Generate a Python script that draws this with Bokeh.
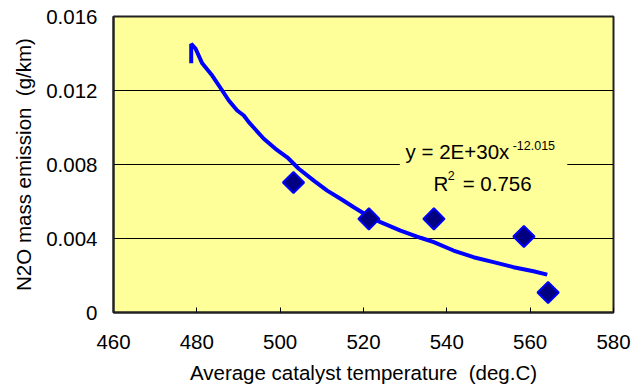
import numpy as np
from bokeh.plotting import figure
from bokeh.models import FixedTicker, Label, BoxAnnotation
from bokeh.embed import file_html
from bokeh.resources import INLINE

# Measured data points
temp = [503.2, 521.3, 536.9, 558.5, 564.3]
n2o = [0.00703, 0.00506, 0.00506, 0.00411, 0.00108]

# Power trendline as drawn in the picture
fit_x = [478.65, 478.65, 479.68, 481.29, 483.69, 486.09, 487.67, 489.69, 491.27,
         492.47, 496.07, 498.88, 501.69, 504.47, 508.07, 511.29, 514.48, 517.67,
         520.89, 524.08, 528.88, 533.68, 536.87, 541.6, 546.4, 551.2, 556.0,
         560.8, 564.1]
fit_y = [0.01347, 0.01452, 0.01427, 0.01347, 0.01281, 0.01200, 0.01146, 0.01092,
         0.01065, 0.01029, 0.00939, 0.00885, 0.00839, 0.00777, 0.00713, 0.00659,
         0.00615, 0.00569, 0.00524, 0.00488, 0.00443, 0.00404, 0.00380, 0.00335,
         0.00299, 0.00272, 0.00245, 0.00223, 0.00205]

x_ticks = [460, 480, 500, 520, 540, 560, 580]
y_ticks = [0, 0.004, 0.008, 0.012, 0.016]
y_tick_labels = ["0", "0.004", "0.008", "0.012", "0.016"]

FONT = "Liberation Sans"
YELLOW = "#FFFF99"

p = figure(width=632, height=390, output_backend="svg", toolbar_location=None,
           x_range=(460, 580), y_range=(0, 0.016),
           min_border_left=113, min_border_right=19, min_border_top=16,
           min_border_bottom=78)

p.background_fill_color = YELLOW
p.border_fill_color = "white"
p.outline_line_color = "#222222"
p.outline_line_width = 2

p.xgrid.grid_line_color = None
p.ygrid.grid_line_color = "black"
p.ygrid.grid_line_width = 1
p.ygrid.ticker = FixedTicker(ticks=y_ticks)

p.xaxis.ticker = FixedTicker(ticks=x_ticks)
p.yaxis.ticker = FixedTicker(ticks=y_ticks)
p.yaxis.major_label_overrides = {t: s for t, s in zip(y_ticks, y_tick_labels)}

for ax in (p.xaxis[0], p.yaxis[0]):
    ax.axis_line_color = "#222222"
    ax.axis_line_width = 2
    ax.minor_tick_line_color = None
    ax.major_label_text_font = FONT
    ax.major_label_text_font_size = "20.5px"
    ax.major_label_text_color = "black"
    ax.axis_label_text_font = FONT
    ax.axis_label_text_font_size = "20.5px"
    ax.axis_label_text_font_style = "normal"
    ax.axis_label_text_color = "black"

p.xaxis.major_tick_in = 5
p.xaxis.major_tick_out = 0
p.xaxis.major_tick_line_color = "black"
p.xaxis.major_label_standoff = 22
p.xaxis.axis_label = "Average catalyst temperature\u00a0 (deg.C)"
p.xaxis.axis_label_standoff = 9

p.yaxis.major_tick_in = 0
p.yaxis.major_tick_out = 0
p.yaxis.major_label_standoff = 16
p.yaxis.axis_label = "N2O mass emission\u00a0 (g/km)"
p.yaxis.axis_label_standoff = 8

p.line(fit_x, fit_y, line_color="#0000FF", line_width=4)
p.scatter(temp, n2o, marker="square", angle=np.pi / 4, size=15,
          fill_color="#000080", line_color="#0000FF", line_width=2)

# mask the gridline behind the equation label
p.add_layout(BoxAnnotation(left=528.7, right=568.9, bottom=0.0074, top=0.0088,
                           fill_color=YELLOW, fill_alpha=1.0, line_alpha=0))

def lab(x, y, t, size):
    p.add_layout(Label(x=x, y=y, text=t, text_font=FONT, text_font_size=size,
                       text_color="black", text_baseline="alphabetic",
                       text_align="left"))

lab(530.1, 0.00870, "y = 2E+30x", "20.5px")
lab(555.8, 0.00905, "-12.015", "12.5px")
lab(536.8, 0.00697, "R", "20.5px")
lab(540.2, 0.00738, "2", "12.5px")
lab(543.8, 0.00697, "= 0.756", "20.5px")

open("out.html", "w").write(file_html(p, INLINE))
